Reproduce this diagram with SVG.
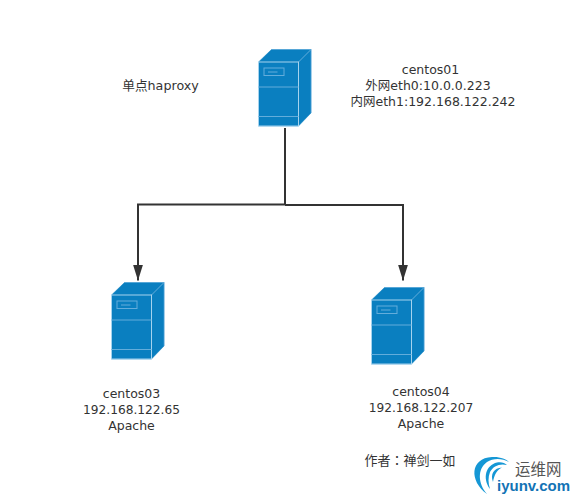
<svg xmlns="http://www.w3.org/2000/svg" width="577" height="503" viewBox="0 0 577 503">
<style>
.t{font-family:"DejaVu Sans","Noto Sans CJK SC",sans-serif;font-size:12.5px;fill:#333;text-anchor:middle}
.n{font-size:12.2px}
.w{stroke:#333;stroke-width:2;fill:none}
.f{fill:#0a7fc0;stroke:#0a7fc0;stroke-width:.5;stroke-linejoin:round}
.e{fill:#0a7fc0;stroke:#a5d3ee;stroke-width:1}
.l{stroke:#63addb;stroke-width:1;fill:none}
</style>
<defs>
<marker id="a" markerUnits="userSpaceOnUse" markerWidth="16" markerHeight="10" refX="16" refY="5" orient="auto" viewBox="0 0 16 10"><path d="M0 0L16 5L0 10Z" fill="#333"/></marker>
<g id="srv">
<path class="f" d="M0 12.5L13 0H52.5V63.5L40 76.5H0Z"/>
<path d="M40 12.5L52.5 0" class="l"/>
<path d="M13 0H52.5V63.5" fill="none" stroke="#63addb" stroke-width=".6"/>
<rect class="e" x="0" y="12.5" width="40" height="64"/>
<path class="l" d="M0 37.5H40M0 67H40"/>
<rect class="l" x="5.5" y="18.5" width="20" height="7.5"/>
<path class="l" d="M9.5 22.5H19"/>
</g>
</defs>
<g id="connectors">
<path class="w" d="M285 128V204.500H138V280.500" marker-end="url(#a)"/>
<path class="w" d="M285 205H403V280.500" marker-end="url(#a)"/>
</g>
<g id="centos01"><use href="#srv" x="258.5" y="49.5"/>
<text class="t" x="430.500" y="74">centos01</text>
<text class="t" x="428" y="90">外网eth0:10.0.0.223</text>
<text class="t" x="433" y="106">内网eth1:192.168.122.242</text>
<text class="t" x="160.500" y="90" style="font-size:12.700px">单点haproxy</text></g>
<g id="centos03"><use href="#srv" x="111.5" y="282.5"/>
<text class="t" x="131.500" y="398">centos03</text>
<text class="t n" x="131.500" y="414">192.168.122.65</text>
<text class="t" x="131.500" y="430">Apache</text></g>
<g id="centos04"><use href="#srv" x="371.5" y="287.5"/>
<text class="t" x="421" y="396">centos04</text>
<text class="t n" x="421" y="412">192.168.122.207</text>
<text class="t" x="421" y="428">Apache</text></g>
<text class="t" x="410" y="465" style="font-family:'Noto Sans CJK TC','DejaVu Sans',sans-serif;font-size:13px">作者：禅剑一如</text>
<g id="logo">
<path d="M487 494C469 481 470 458 492 457C500 456.500 506 459 509 462C502 458 493 458 487 462C477 469 478 484 487 494Z" fill="#1597d5"/>
<path d="M490 489C482 478 486 465 497 462.500C501 461.500 505 463 507 465C500 463 493 466 490 472C488 477 488 483 490 489Z" fill="#1597d5"/>
<path d="M493 482C490 474 494 468 502 467.500C497 470 494 475 493 482Z" fill="#1597d5"/>
<text x="515" y="475" style="font-family:'Noto Sans CJK SC',sans-serif;font-size:15.500px;fill:#555">运维网</text>
<text x="497" y="491" style="font-family:'Liberation Sans',sans-serif;font-size:15px;font-weight:700;fill:#1273b5">iyunv.com</text>
</g>
</svg>
